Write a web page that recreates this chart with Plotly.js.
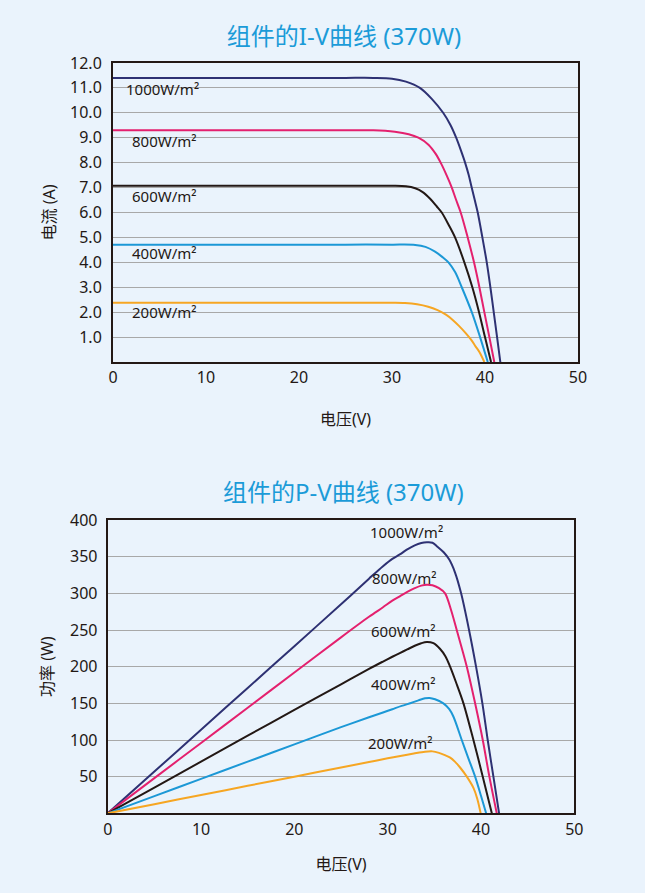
<!DOCTYPE html>
<html>
<head>
<meta charset="utf-8">
<script src="https://cdn.plot.ly/plotly-3.0.1.min.js"></script>
<style>
  html, body { margin: 0; padding: 0; background: #eaf3fc; }
  #chart { width: 645px; height: 893px; }
</style>
</head>
<body>
<div id="chart"></div>
<script>
// Irradiance levels shown on both charts
const levels = ['1000W/m²', '800W/m²', '600W/m²', '400W/m²', '200W/m²'];
const colors = ['#2e3173', '#e4206e', '#231815', '#1c98d6', '#f6a623'];

// I-V curves: voltage (V) and current (A) for each irradiance
const iv1000V = [0, 5, 10, 15, 20, 25, 28, 30, 31.5, 33, 34.3, 35.5, 36.3, 36.9, 37.4, 37.86, 38.25, 38.57, 38.9, 39.22, 39.72, 40.19, 40.58, 40.94, 41.3, 41.65];
const iv1000I = [11.4, 11.4, 11.4, 11.4, 11.4, 11.4, 11.4, 11.37, 11.25, 11.0, 10.55, 10.0, 9.5, 9.0, 8.5, 8.0, 7.5, 7.0, 6.5, 6.0, 5.0, 4.0, 3.0, 2.0, 1.0, 0];
const iv800V  = [0, 5, 10, 15, 20, 25, 28, 30.3, 31.8, 32.84, 33.92, 34.7, 35.3, 35.9, 36.43, 36.9, 37.39, 38.14, 38.82, 39.4, 39.93, 40.47, 41.0];
const iv800I  = [9.3, 9.3, 9.3, 9.3, 9.3, 9.3, 9.3, 9.24, 9.14, 9.0, 8.72, 8.35, 7.95, 7.47, 7.0, 6.5, 6.0, 5.0, 4.0, 3.0, 2.0, 1.0, 0];
const iv600V  = [0, 5, 10, 15, 20, 25, 30, 31.5, 32.5, 33.3, 34.1, 34.8, 35.35, 36.1, 36.78, 37.78, 38.64, 39.36, 40.0, 40.65];
const iv600I  = [7.07, 7.07, 7.07, 7.07, 7.07, 7.07, 7.07, 7.05, 6.97, 6.82, 6.55, 6.25, 6.0, 5.5, 5.0, 4.0, 3.0, 2.0, 1.0, 0];
const iv400V  = [0, 5, 10, 15, 20, 25, 30, 32.5, 33.6, 34.63, 35.4, 36.07, 36.8, 37.5, 38.58, 39.47, 40.3];
const iv400I  = [4.71, 4.71, 4.71, 4.71, 4.71, 4.71, 4.71, 4.7, 4.62, 4.43, 4.22, 4.0, 3.6, 3.0, 2.0, 1.0, 0];
const iv200V  = [0, 5, 10, 15, 20, 25, 30, 31.4, 32.7, 33.9, 34.9, 35.8, 36.5, 37.2, 37.9, 38.5, 39.0, 39.4, 39.93];
const iv200I  = [2.38, 2.38, 2.38, 2.38, 2.38, 2.38, 2.38, 2.37, 2.32, 2.22, 2.08, 1.9, 1.7, 1.45, 1.17, 0.9, 0.62, 0.4, 0];

// P-V curves: voltage (V) and power (W) for each irradiance
const pv1000V = [0, 5, 10, 15, 20, 25, 28, 29.5, 30.5, 31.3, 32.1, 32.9, 33.6, 34.2, 34.8, 35.3, 36.0, 36.6, 37.2, 37.87, 38.72, 39.47, 40.15, 40.72, 41.33, 41.94];
const pv1000P = [0, 57, 114, 171, 228, 285, 320, 337, 347, 353, 360, 365.5, 368.5, 369.5, 369, 364, 356, 346, 329, 300, 250, 200, 150, 100, 50, 0];
const pv800V  = [0, 5, 10, 15, 20, 25, 28, 29.5, 30.5, 31.3, 32.1, 32.9, 33.6, 34.2, 34.8, 35.5, 36.15, 36.8, 37.4, 38.48, 39.37, 40.19, 40.9, 41.69];
const pv800P  = [0, 48, 96, 144, 192, 240, 268, 281, 290, 296, 302, 307, 310.5, 311.8, 311, 307, 300, 277, 250, 200, 150, 100, 50, 0];
const pv600V  = [0, 5, 10, 15, 20, 25, 28, 29.5, 30.5, 31.3, 32.1, 32.9, 33.6, 34.2, 34.9, 35.6, 36.2, 36.69, 37.4, 38.12, 39.19, 40.19, 41.16];
const pv600P  = [0, 35, 70.5, 106, 141, 176, 197, 207, 213.5, 218.5, 223.5, 228.5, 232, 233.7, 232, 224.4, 214, 200, 176, 150, 100, 50, 0];
const pv400V  = [0, 5, 10, 15, 20, 25, 28, 29.5, 30.5, 31.5, 32.5, 33.3, 34.0, 34.5, 35.08, 35.97, 36.6, 37.04, 37.94, 38.65, 39.37, 40.0, 40.55];
const pv400P  = [0, 23.5, 47, 70.5, 94, 117.5, 131, 137.5, 142, 146.5, 150.5, 154, 156.8, 157.4, 155.5, 150, 142, 132, 100, 75, 50, 24, 0];
const pv200V  = [0, 5, 10, 15, 20, 25, 28, 30, 31.5, 32.8, 34.0, 34.8, 35.5, 36.2, 36.7, 37.2, 37.76, 38.48, 39.19, 39.6, 39.97];
const pv200P  = [0, 12.5, 25, 37.5, 50, 62.5, 70, 75, 78.5, 81.5, 84, 84.5, 82.5, 79, 76, 70.5, 62.5, 50, 34.7, 20, 0];

// Axis ticks
const voltTicks = [0, 10, 20, 30, 40, 50];
const currentTicks = [1, 2, 3, 4, 5, 6, 7, 8, 9, 10, 11, 12];
const powerTicks = [50, 100, 150, 200, 250, 300, 350, 400];

// Label anchor positions (data units)
const ivLabelV = [1.2, 1.86, 1.86, 1.86, 1.86];
const ivLabelI = [10.96, 8.85, 6.65, 4.36, 2.0];
const pvLabelV = [32.05, 31.75, 31.7, 31.7, 31.4];
const pvLabelP = [383, 321, 249, 177, 96];

const ivSets = [[iv1000V, iv1000I], [iv800V, iv800I], [iv600V, iv600I], [iv400V, iv400I], [iv200V, iv200I]];
const pvSets = [[pv1000V, pv1000P], [pv800V, pv800P], [pv600V, pv600P], [pv400V, pv400P], [pv200V, pv200P]];

const FONT = 'Noto Sans, Noto Sans CJK SC, sans-serif';
const INK = '#231815';
const BG = '#eaf3fc';
const TITLE_BLUE = '#1b9bd8';

const traces = [];
ivSets.forEach((s, k) => traces.push({
  x: s[0], y: s[1], xaxis: 'x', yaxis: 'y', type: 'scatter', mode: 'lines',
  line: { color: colors[k], width: 2, shape: 'spline', smoothing: 0.9 },
  name: levels[k], hoverinfo: 'skip'
}));
pvSets.forEach((s, k) => traces.push({
  x: s[0], y: s[1], xaxis: 'x2', yaxis: 'y2', type: 'scatter', mode: 'lines',
  line: { color: colors[k], width: 2, shape: 'spline', smoothing: 0.9 },
  name: levels[k], hoverinfo: 'skip'
}));

const annotations = [];
levels.forEach((t, k) => annotations.push({
  xref: 'x', yref: 'y', x: ivLabelV[k], y: ivLabelI[k], text: t,
  showarrow: false, xanchor: 'left', yanchor: 'middle',
  font: { family: FONT, size: 15, color: INK }
}));
levels.forEach((t, k) => annotations.push({
  xref: 'x2', yref: 'y2', x: pvLabelV[k], y: pvLabelP[k], text: t,
  showarrow: false, xanchor: 'center', yanchor: 'middle',
  font: { family: FONT, size: 15, color: INK }
}));
annotations.push({
  xref: 'paper', yref: 'paper', x: 0.5333, y: 0.4494,
  xanchor: 'center', yanchor: 'middle', showarrow: false,
  text: '组件的P-V曲线 (370W)',
  font: { family: FONT, size: 24, color: TITLE_BLUE }
});

const axisBase = {
  showline: true, mirror: true, linecolor: INK, linewidth: 2,
  zeroline: false, ticks: '', tickfont: { family: FONT, size: 16, color: INK },
  fixedrange: true
};

const layout = {
  width: 645, height: 893,
  margin: { l: 0, r: 0, t: 0, b: 0 },
  paper_bgcolor: BG, plot_bgcolor: BG,
  showlegend: false,
  font: { family: FONT, color: INK },
  title: {
    text: '组件的I-V曲线 (370W)',
    x: 0.5333, xanchor: 'center', y: 0.9586, yanchor: 'middle',
    font: { family: FONT, size: 24, color: TITLE_BLUE }
  },
  xaxis: Object.assign({}, axisBase, {
    domain: [0.1752, 0.8961], anchor: 'y', range: [0, 50],
    tickmode: 'array', tickvals: voltTicks, ticktext: voltTicks.map(String),
    showgrid: false,
    title: { text: '电压(V)', font: { family: FONT, size: 16, color: INK }, standoff: 27 }
  }),
  yaxis: Object.assign({}, axisBase, {
    domain: [0.5946, 0.9295], anchor: 'x', range: [0, 12],
    tickmode: 'array', tickvals: currentTicks, ticktext: currentTicks.map(v => v.toFixed(1)),
    showgrid: true, gridcolor: '#a8a8a8', gridwidth: 1, ticklabelstandoff: 6,
    title: { text: '电流 (A)', font: { family: FONT, size: 16, color: INK }, standoff: 10 }
  }),
  xaxis2: Object.assign({}, axisBase, {
    domain: [0.167, 0.8904], anchor: 'y2', range: [0, 50],
    tickmode: 'array', tickvals: voltTicks, ticktext: voltTicks.map(String),
    showgrid: false,
    title: { text: '电压(V)', font: { family: FONT, size: 16, color: INK }, standoff: 20 }
  }),
  yaxis2: Object.assign({}, axisBase, {
    domain: [0.0892, 0.4177], anchor: 'x2', range: [0, 400],
    tickmode: 'array', tickvals: powerTicks, ticktext: powerTicks.map(String),
    showgrid: true, gridcolor: '#a8a8a8', gridwidth: 1, ticklabelstandoff: 5,
    title: { text: '功率 (W)', font: { family: FONT, size: 16, color: INK }, standoff: 12 }
  }),
  annotations: annotations
};

Plotly.newPlot('chart', traces, layout, { staticPlot: true, displayModeBar: false });
</script>
</body>
</html>
